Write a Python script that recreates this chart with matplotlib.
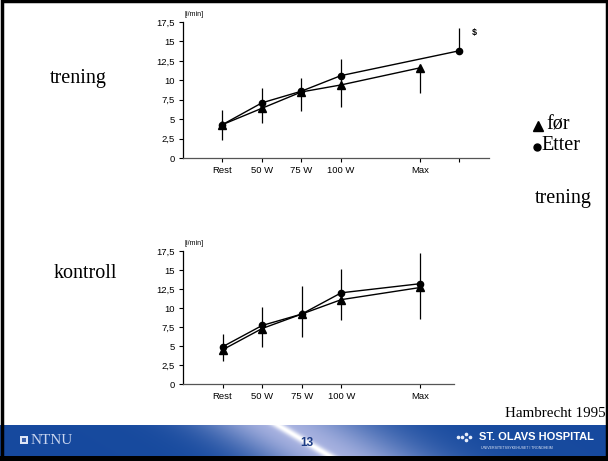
import numpy as np
import matplotlib.pyplot as plt
from matplotlib.patches import Rectangle
from matplotlib.lines import Line2D

W, H = 608, 461

categories = ['Rest', '50 W', '75 W', '100 W', 'Max']
cat_pos = [0, 1, 2, 3, 5]
y_ticks = [0, 2.5, 5, 7.5, 10, 12.5, 15, 17.5]
y_labels = ['0', '2,5', '5', '7,5', '10', '12,5', '15', '17,5']

# trening (øvre figur)
tr_for_pos = [0, 1, 2, 3, 5]
tr_for = [4.3, 6.4, 8.5, 9.4, 11.6]
tr_etter_pos = [0, 1, 2, 3, 6]
tr_etter = [4.3, 7.1, 8.6, 10.6, 13.8]
tr_err_pos = [0, 1, 2, 3, 5, 6]
tr_err_lo = [2.3, 4.5, 6.1, 6.6, 8.4, 13.8]
tr_err_hi = [6.2, 9.0, 10.3, 12.7, 11.7, 16.7]

# kontroll (nedre figur)
ko_pos = [0, 1, 2, 3, 5]
ko_for = [4.5, 7.3, 9.2, 11.1, 12.7]
ko_etter = [4.9, 7.7, 9.2, 12.0, 13.2]
ko_err_lo = [3.0, 4.9, 6.2, 8.4, 8.5]
ko_err_hi = [6.6, 10.1, 12.9, 15.1, 17.2]


def px(x0, y0, x1, y1):
    """pikselboks (topp-venstre origo) -> figurkoordinater"""
    return [x0 / W, 1 - y1 / H, (x1 - x0) / W, (y1 - y0) / H]


def style_axes(ax, xmax, extra_ticks=()):
    ax.set_xlim(-1, xmax)
    ax.set_ylim(0, 17.5)
    for s in ['top', 'right']:
        ax.spines[s].set_visible(False)
    ax.spines['left'].set_linewidth(0.9)
    ax.spines['bottom'].set_linewidth(0.9)
    ax.spines['bottom'].set_color('#555555')
    ax.set_yticks(y_ticks)
    ax.set_yticklabels(y_labels, fontsize=6.8, family='Liberation Sans')
    ticks = list(cat_pos) + list(extra_ticks)
    labels = categories + [''] * len(extra_ticks)
    ax.set_xticks(ticks)
    ax.set_xticklabels(labels, fontsize=6.8, family='Liberation Sans')
    ax.tick_params(axis='both', length=3, width=0.8, pad=3)
    ax.patch.set_alpha(0)
    ax.text(-0.95, 18.3, '[l/min]', fontsize=5, family='Liberation Sans',
            clip_on=False)


fig = plt.figure(figsize=(W / 100, H / 100), dpi=100)

# øvre: trening
ax1 = fig.add_axes(px(183, 22, 489, 158))
style_axes(ax1, 6.75, extra_ticks=[6])
ax1.vlines(tr_err_pos, tr_err_lo, tr_err_hi, color='black', lw=0.9, clip_on=False)
ax1.plot(tr_etter_pos, tr_etter, color='black', lw=1.0, marker='o', ms=4.5, clip_on=False)
ax1.plot(tr_for_pos, tr_for, color='black', lw=1.0, marker='^', ms=5.5, clip_on=False)
ax1.text(6.38, 16.1, '$', fontsize=6.5, fontweight='bold', family='Liberation Sans',
         ha='center', va='center', parse_math=False, clip_on=False)

# nedre: kontroll
ax2 = fig.add_axes(px(183, 251, 454, 384))
style_axes(ax2, 5.85)
ax2.vlines(ko_pos, ko_err_lo, ko_err_hi, color='black', lw=0.9, clip_on=False)
ax2.plot(ko_pos, ko_etter, color='black', lw=1.0, marker='o', ms=4.5, clip_on=False)
ax2.plot(ko_pos, ko_for, color='black', lw=1.0, marker='^', ms=5.5, clip_on=False)

# tekster på lysbildet
serif = ['Liberation Serif', 'DejaVu Serif']
fig.text(78 / W, 1 - 78 / H, 'trening', fontsize=14.5, family=serif, ha='center', va='center')
fig.text(85 / W, 1 - 273 / H, 'kontroll', fontsize=14.5, family=serif, ha='center', va='center')
fig.add_artist(Line2D([538 / W], [1 - 126 / H], marker='^', ms=7.5, color='black',
                      transform=fig.transFigure))
fig.add_artist(Line2D([537 / W], [1 - 147 / H], marker='o', ms=5, color='black',
                      transform=fig.transFigure))
fig.text(546 / W, 1 - 125 / H, 'før', fontsize=14.5, family=serif, va='center')
fig.text(541 / W, 1 - 146 / H, 'Etter', fontsize=14.5, family=serif, va='center')
fig.text(535 / W, 1 - 198 / H, 'trening', fontsize=14.5, family=serif, va='center')
fig.text(606 / W, 1 - 413 / H, 'Hambrecht 1995', fontsize=10.8, family=serif,
         ha='right', va='center')

# bunnlinje med gradient
fy0, fy1 = 425, 456
axf = fig.add_axes(px(0, fy0, W, fy1))
xs = np.arange(W)[None, :]
ys = np.arange(fy1 - fy0)[:, None]
xc = 278 + ys / (fy1 - fy0) * 52
d = xs - xc
blue = np.array([0.09, 0.29, 0.62])
lav = np.array([0.66, 0.70, 0.88])
glow = np.where(d < 0, np.exp(-(d / 75.0) ** 2), np.exp(-(d / 95.0) ** 2))
core = np.exp(-(d / 7.0) ** 2)
img = blue[None, None, :] * (1 - glow[..., None]) + lav[None, None, :] * glow[..., None]
img = img * (1 - core[..., None]) + core[..., None]
axf.imshow(np.clip(img, 0, 1), aspect='auto', extent=[0, W, fy1 - fy0, 0])
axf.set_xlim(0, W)
axf.set_ylim(fy1 - fy0, 0)
axf.axis('off')
axf.add_patch(Rectangle((20, 11), 8, 8, facecolor='#dfe6f5', edgecolor='none'))
axf.add_patch(Rectangle((22, 13), 4, 4, facecolor='#3d62ad', edgecolor='none'))
axf.text(31, 15.5, 'NTNU', fontsize=11, family=serif, color='#c9d5ef', va='center')
axf.text(307, 18, '13', fontsize=8.5, fontweight='bold', family='Liberation Sans',
         color='#1d3c86', ha='center', va='center')
for dx, dy in [(0, 0), (4, -3), (4, 3), (8, 0), (-4, 0)]:
    axf.plot(462 + dx, 12 + dy, 'o', color='#e8eefa', ms=1.6)
axf.text(479, 12, 'ST. OLAVS HOSPITAL', fontsize=8, fontweight='bold',
         family='Liberation Sans', color='white', va='center')
axf.text(481, 23, 'UNIVERSITETSSYKEHUSET I TRONDHEIM', fontsize=2.6,
         family='Liberation Sans', color='#dfe6f5', va='center')

# ramme rundt lysbildet
fig.add_artist(Rectangle((0, 0), 1, (H - 456) / H, transform=fig.transFigure,
                         facecolor='black', edgecolor='none'))
fig.add_artist(Rectangle((1.5 / W, 1.5 / H), 1 - 3 / W, 1 - 3 / H, transform=fig.transFigure,
                         fill=False, edgecolor='black', lw=2.5))

fig.savefig('out.png', dpi=100)
